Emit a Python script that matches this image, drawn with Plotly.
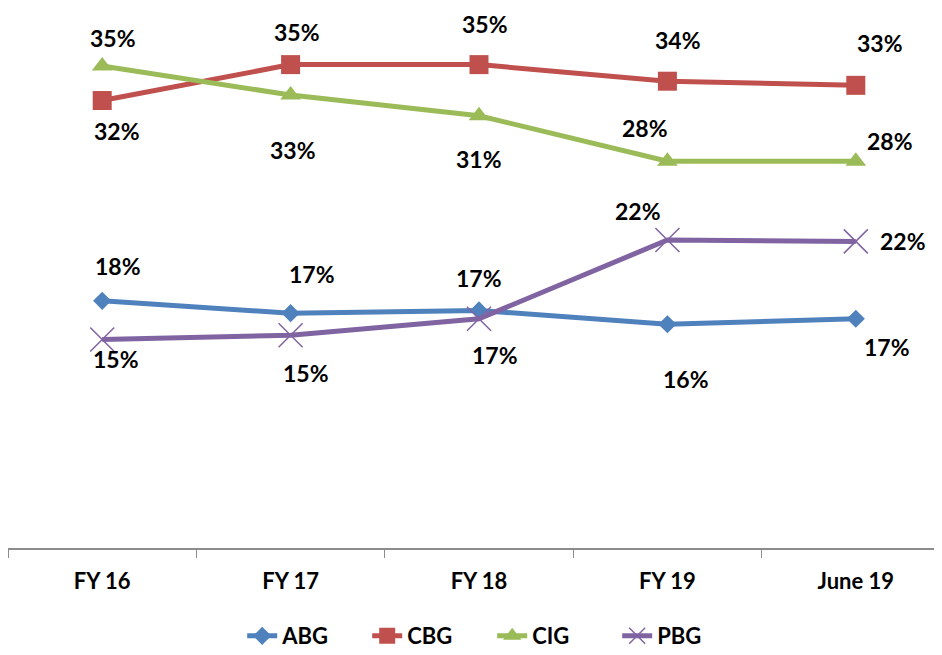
import plotly.graph_objects as go

# categories and series (share, %)
periods = ["FY 16", "FY 17", "FY 18", "FY 19", "June 19"]
abg = [17.9, 17.0, 17.2, 16.2, 16.6]
cbg = [32.4, 35.0, 35.0, 33.8, 33.5]
cig = [34.9, 32.8, 31.3, 28.0, 28.0]
pbg = [15.1, 15.4, 16.6, 22.3, 22.2]

abg_labels = ["18%", "17%", "17%", "16%", "17%"]
cbg_labels = ["32%", "35%", "35%", "34%", "33%"]
cig_labels = ["35%", "33%", "31%", "28%", "28%"]
pbg_labels = ["15%", "15%", "17%", "22%", "22%"]

# label offsets in pixels (x, y) relative to each marker
abg_off = [(16, 35), (21, 39), (0, 32), (19, -55), (31, -28)]
cbg_off = [(15, -30), (6, 33), (6, 41), (11, 41), (24, 42)]
cig_off = [(11, 28), (2, -55), (0, -43), (-22, 33), (34, 20)]
pbg_off = [(14, -20), (15, -38), (16, -36), (-29, 29), (47, 0)]

FONT = "Lato, Roboto, sans-serif"

series = [
    ("ABG", abg, abg_labels, abg_off, "#4F81BD", dict(symbol="diamond", size=14)),
    ("CBG", cbg, cbg_labels, cbg_off, "#C0504D", dict(symbol="square", size=19)),
    ("CIG", cig, cig_labels, cig_off, "#9BBB59", dict(symbol="triangle-up", size=18)),
    ("PBG", pbg, pbg_labels, pbg_off, "#8064A2",
     dict(symbol="x-thin-open", size=24, line=dict(width=1.5, color="#8064A2"))),
]

fig = go.Figure()
annotations = []
for name, vals, labels, offs, color, marker in series:
    fig.add_trace(go.Scatter(
        x=periods, y=vals, name=f"<b>{name}</b>", mode="lines+markers",
        line=dict(color=color, width=5),
        marker=dict(color=color, **marker),
    ))
    for p, v, t, (dx, dy) in zip(periods, vals, labels, offs):
        annotations.append(dict(
            x=p, y=v, text=f"<b>{t}</b>", showarrow=False,
            xshift=dx, yshift=dy, font=dict(family=FONT, size=23, color="black"),
        ))

fig.update_layout(
    width=942, height=655,
    margin=dict(l=0, r=0, t=0, b=115),
    paper_bgcolor="white", plot_bgcolor="white",
    font=dict(family=FONT, color="black"),
    annotations=annotations,
    showlegend=True,
    legend=dict(
        orientation="h", x=0.514, xanchor="center", y=-0.163, yanchor="middle",
        font=dict(family=FONT, size=22, color="black"),
        entrywidth=80, entrywidthmode="pixels",
        traceorder="normal",
    ),
    xaxis=dict(
        type="category", tickson="boundaries", range=[-0.5, 4.5],
        showline=True, linecolor="#8C8C8C", linewidth=1.5,
        ticks="outside", ticklen=8, tickcolor="#8C8C8C",
        ticklabelstandoff=13,
        tickfont=dict(family=FONT, size=22, color="black"),
        ticktext=[f"<b>{p}</b>" for p in periods], tickvals=periods,
        showgrid=False, zeroline=False,
    ),
    yaxis=dict(range=[0, 39.1], visible=False, showgrid=False, zeroline=False),
)

fig.write_html("out.html")
